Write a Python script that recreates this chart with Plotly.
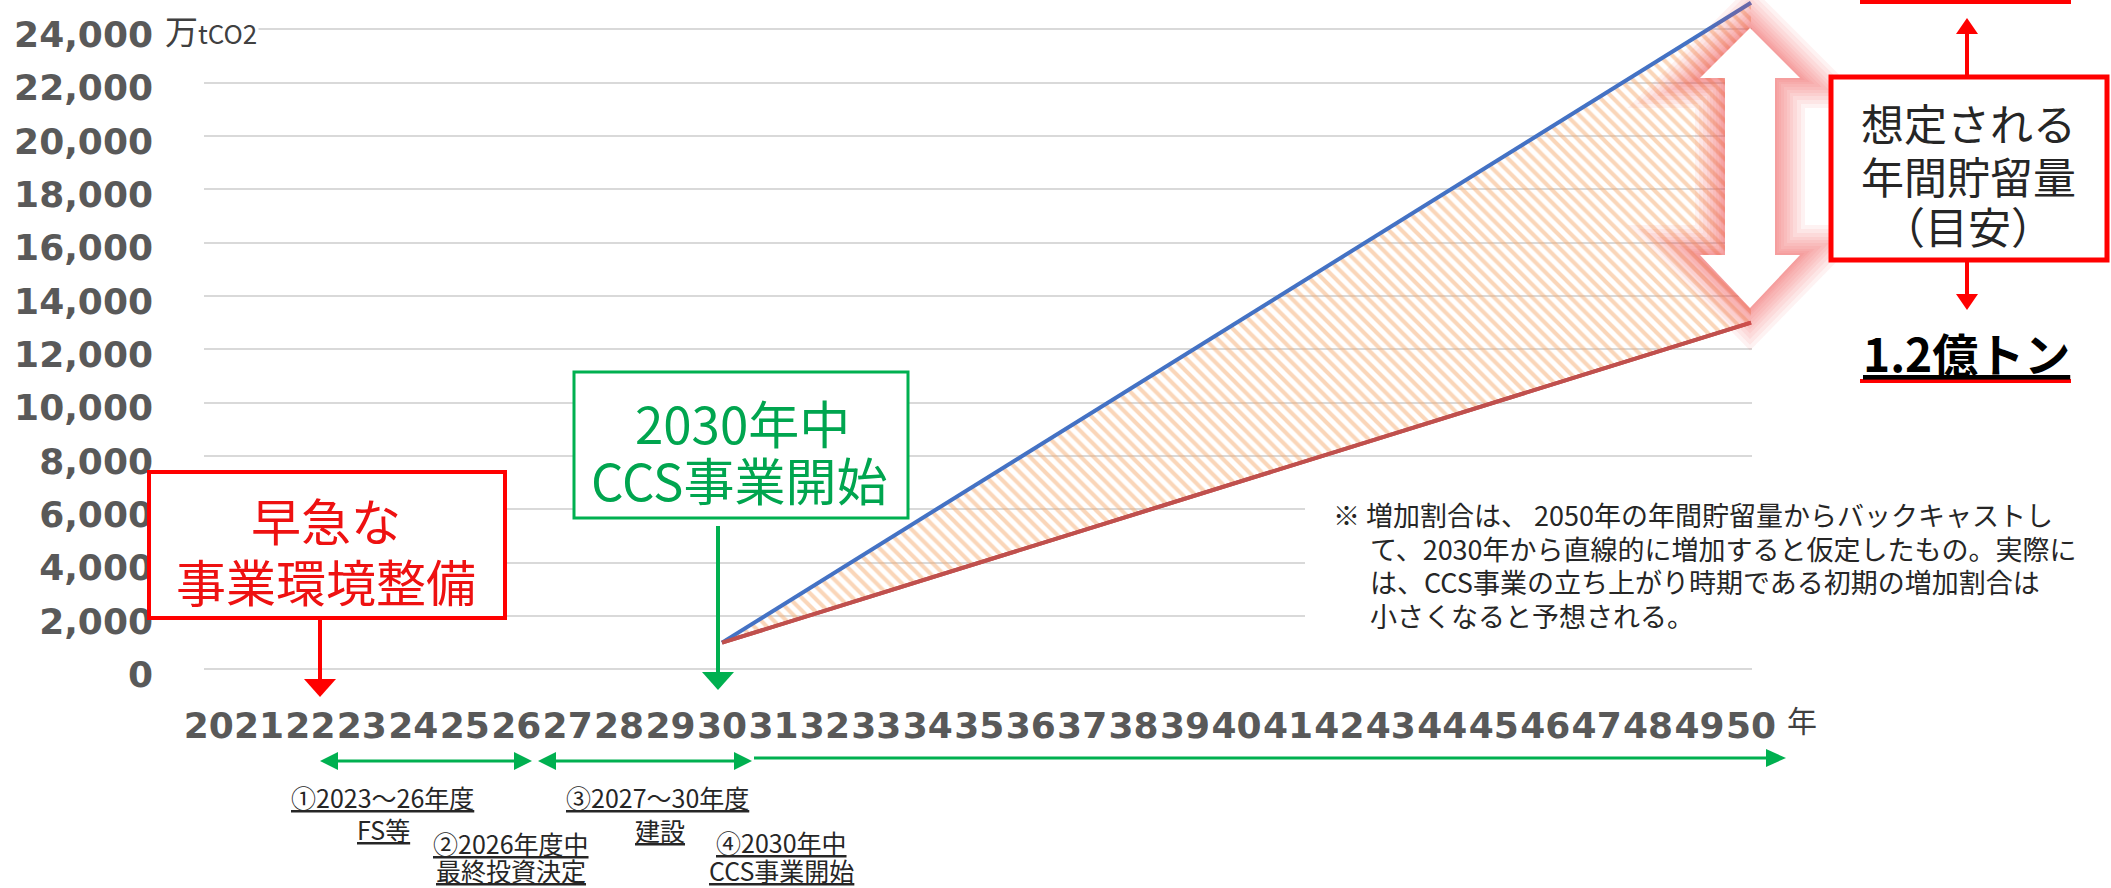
import plotly.graph_objects as go

# ---------------- data ----------------
years = [2021, 2022, 2023, 2024, 2025, 2026, 2027, 2028, 2029, 2030,
         2031, 2032, 2033, 2034, 2035, 2036, 2037, 2038, 2039, 2040,
         2041, 2042, 2043, 2044, 2045, 2046, 2047, 2048, 2049, 2050]
year_labels = ["2021", "22", "23", "24", "25", "26", "27", "28", "29", "30",
               "31", "32", "33", "34", "35", "36", "37", "38", "39", "40",
               "41", "42", "43", "44", "45", "46", "47", "48", "49", "50"]
y_ticks = [0, 2000, 4000, 6000, 8000, 10000, 12000, 14000, 16000, 18000, 20000, 22000, 24000]
y_tick_labels = ["0", "2,000", "4,000", "6,000", "8,000", "10,000", "12,000",
                 "14,000", "16,000", "18,000", "20,000", "22,000", "24,000"]
line_years = [2030, 2050]
upper_values = [1000, 25000]   # 万tCO2
lower_values = [1000, 13000]   # 万tCO2

unit_label = "万<span style='font-size:26px'>tCO2</span>"
x_unit = "年"
red_box_lines = ["早急な", "事業環境整備"]
green_box_lines = ["2030年中", "CCS事業開始"]
right_box_lines = ["想定される", "年間貯留量", "（目安）"]
lower_target = "1.2億トン"
note_lines = ["※ 増加割合は、 2050年の年間貯留量からバックキャストし",
              "て、2030年から直線的に増加すると仮定したもの。実際に",
              "は、CCS事業の立ち上がり時期である初期の増加割合は",
              "小さくなると予想される。"]
step_labels = ["①2023〜26年度", "FS等", "②2026年度中", "最終投資決定",
               "③2027〜30年度", "建設", "④2030年中", "CCS事業開始"]

# ---------------- geometry helpers ----------------
W, H = 2111, 888
L, R, T, B = 204, 359, 0, 192
PW, PH = W - L - R, H - T - B


def px(x):
    return (x - L) / PW


def py(y):
    return (H - B - y) / PH


JP = "Noto Sans CJK JP"
NUM = "DejaVu Sans"
RED = "#FF0000"
RED_TXT = "#EE1111"
GREEN = "#00B050"
GREEN_TXT = "#00A54F"
GRAY = "#595959"

shapes = []
annotations = []


def poly(pts):
    return "M " + " L ".join(f"{px(a):.5f},{py(b):.5f}" for a, b in pts) + " Z"


def rect(x0, y0, x1, y1, color, width, fill="white"):
    shapes.append(dict(type="rect", xref="paper", yref="paper",
                       x0=px(x0), x1=px(x1), y0=py(y1), y1=py(y0),
                       line=dict(color=color, width=width), fillcolor=fill, layer="above"))


def seg(x0, y0, x1, y1, color, width):
    shapes.append(dict(type="line", xref="paper", yref="paper",
                       x0=px(x0), y0=py(y0), x1=px(x1), y1=py(y1),
                       line=dict(color=color, width=width), layer="above"))


def tri(pts, color):
    shapes.append(dict(type="path", xref="paper", yref="paper", path=poly(pts),
                       fillcolor=color, line=dict(width=0), layer="above"))


def v_arrow(x, y_from, y_tip, color, width, hl, hh):
    d = 1 if y_tip > y_from else -1
    base = y_tip - d * hl
    seg(x, y_from, x, base + d * 1, color, width)
    tri([(x - hh, base), (x + hh, base), (x, y_tip)], color)


def h_arrow(x0, x1, y, color, width, hl, hh, left=True, right=True):
    a = x0 + hl if left else x0
    b = x1 - hl if right else x1
    seg(a - 1, y, b + 1, y, color, width)
    if left:
        tri([(x0 + hl, y - hh), (x0 + hl, y + hh), (x0, y)], color)
    if right:
        tri([(x1 - hl, y - hh), (x1 - hl, y + hh), (x1, y)], color)


def txt(s, x, y, size, color, xanchor="center", bold=False, family=JP, bg=None):
    a = dict(text=s, x=px(x), y=py(y), xref="paper", yref="paper",
             xanchor=xanchor, yanchor="middle", showarrow=False,
             font=dict(size=size, color=color, family=family,
                       weight="bold" if bold else "normal"))
    if bg:
        a["bgcolor"] = bg
    annotations.append(a)


# ---------------- traces ----------------
fig = go.Figure()
fig.add_trace(go.Scatter(x=line_years, y=lower_values, mode="lines",
                         line=dict(color="#C0504D", width=4), hoverinfo="skip"))
fig.add_trace(go.Scatter(x=line_years, y=upper_values, mode="lines", fill="tonexty",
                         fillcolor="rgba(0,0,0,0)",
                         fillpattern=dict(shape="\\", fgcolor="#F5AE74", bgcolor="rgba(255,255,255,0)",
                                          size=9, solidity=0.45),
                         line=dict(color="#4472C4", width=4), hoverinfo="skip"))
fig.add_trace(go.Scatter(x=line_years, y=lower_values, mode="lines",
                         line=dict(color="#C0504D", width=4), hoverinfo="skip"))

# ---------------- decorations ----------------
# white backing behind the note
shapes.append(dict(type="rect", xref="paper", yref="paper", x0=px(1305), x1=px(2111),
                   y0=py(645), y1=py(482), line=dict(width=0), fillcolor="white", layer="above"))


# glow + white double arrow at 2050
def arrow_outline(d):
    k = 2.414 * d
    return [(1750, 28 - 1.414 * d), (1800 + k, 78 + d), (1775 + d, 78 + d), (1775 + d, 255 - d),
            (1800 + k, 255 - d), (1750, 308 + 1.414 * d), (1700 - k, 255 - d), (1725 - d, 255 - d),
            (1725 - d, 78 + d), (1700 - k, 78 + d)]


for d in [30, 26, 22, 18, 15, 12, 9, 6, 4, 2]:
    shapes.append(dict(type="path", xref="paper", yref="paper", path=poly(arrow_outline(d)),
                       fillcolor="rgba(238,80,80,0.075)", line=dict(width=0), layer="above"))
shapes.append(dict(type="path", xref="paper", yref="paper", path=poly(arrow_outline(0)),
                   fillcolor="white", line=dict(width=0), layer="above"))

# boxes
rect(149, 472, 505, 618, RED, 4)
rect(574, 372, 908, 518, GREEN, 3)
rect(1831, 77, 2107, 260, RED, 5)

# vertical arrows
v_arrow(320, 618, 697, RED, 4, 18, 16)
v_arrow(718, 526, 690, GREEN, 4, 18, 16)
v_arrow(1967, 77, 18, RED, 4, 16, 11)
v_arrow(1967, 260, 310, RED, 4, 16, 11)

# red underlines (top one is cut off by the image edge)
seg(1860, 1.5, 2071, 1.5, RED, 5)
seg(1860, 381, 2071, 381, RED, 4)

# timeline arrows
h_arrow(320, 532, 761, GREEN, 3, 18, 9)
h_arrow(538, 752, 761, GREEN, 3, 18, 9)
h_arrow(755, 1786, 758, GREEN, 3, 20, 9, left=False)

# ---------------- texts ----------------
txt(unit_label, 163, 30, 33, "#404040", xanchor="left", bg="white")
txt(x_unit, 1802, 719, 30, "#404040")

txt(red_box_lines[0], 326, 519, 50, RED_TXT)
txt(red_box_lines[1], 326, 580, 50, RED_TXT)
txt(green_box_lines[0], 742, 422, 51, GREEN_TXT)
txt(green_box_lines[1], 739, 479, 51, GREEN_TXT)

txt(right_box_lines[0], 1968, 122, 43, "#262626")
txt(right_box_lines[1], 1968, 175, 43, "#262626")
txt(right_box_lines[2], 1968, 225, 43, "#262626")
txt(f"<u>{lower_target}</u>", 1966, 352, 46, "#000000", bold=True)

note_pos = [(1331, 514), (1368, 548), (1368, 581), (1368, 615)]
for s, (x, y) in zip(note_lines, note_pos):
    txt(s, x, y, 27, "#262626", xanchor="left")

step_pos = [(382, 797), (383, 829), (511, 843), (511, 870),
            (657, 797), (660, 830), (781, 842), (781, 870)]
for s, (x, y) in zip(step_labels, step_pos):
    txt(f"<u>{s}</u>", x, y, 25, "#262626")

# ---------------- axes / layout ----------------
x_per_year = (1751 - 722) / (line_years[1] - line_years[0])
x_left = line_years[0] - (722 - L) / x_per_year
x_right = line_years[1] + (L + PW - 1751) / x_per_year
ticktext = [year_labels[0] + "\u2007\u2007"] + year_labels[1:]

fig.update_layout(
    width=W, height=H, autosize=False,
    margin=dict(l=L, r=R, t=T, b=B, pad=0),
    paper_bgcolor="white", plot_bgcolor="white",
    showlegend=False,
    shapes=shapes, annotations=annotations,
    xaxis=dict(range=[x_left, x_right], tickmode="array", tickvals=years, ticktext=ticktext,
               tickangle=0, showgrid=False, zeroline=False, showline=False, ticks="",
               tickfont=dict(family=NUM, size=36, color=GRAY, weight="bold"),
               ticklabelstandoff=5, fixedrange=True),
    yaxis=dict(range=[-1000, 25100], tickmode="array", tickvals=y_ticks, ticktext=y_tick_labels,
               showgrid=True, gridcolor="#D9D9D9", gridwidth=2, zeroline=False, showline=False,
               ticks="", tickfont=dict(family=NUM, size=36, color=GRAY, weight="bold"),
               ticklabelstandoff=50, ticklabelshift=5, fixedrange=True),
)

fig.write_html("out.html")
